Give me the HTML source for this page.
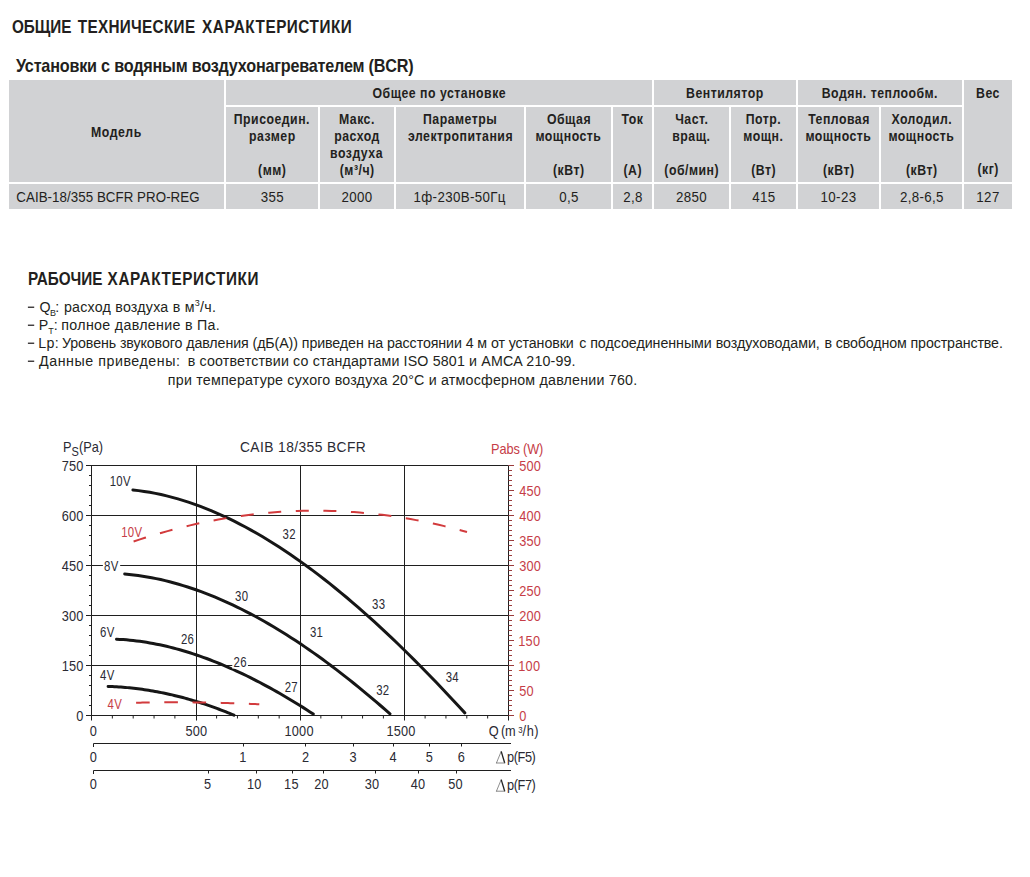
<!DOCTYPE html>
<html><head><meta charset="utf-8"><style>
html,body{margin:0;padding:0;background:#fff;width:1030px;height:877px;overflow:hidden}
svg{position:absolute;left:0;top:0}
text{font-family:"Liberation Sans",sans-serif;white-space:pre}
</style></head><body>
<svg width="1030" height="877" viewBox="0 0 1030 877">
<g id="table">
<rect x="9" y="80" width="215" height="102" fill="#d1d2d4"/>
<rect x="226" y="80" width="426" height="25" fill="#d1d2d4"/>
<rect x="654" y="80" width="142" height="25" fill="#d1d2d4"/>
<rect x="798" y="80" width="164" height="25" fill="#d1d2d4"/>
<rect x="964" y="80" width="48" height="102" fill="#d1d2d4"/>
<rect x="226" y="107" width="92" height="75" fill="#d1d2d4"/>
<rect x="320" y="107" width="74" height="75" fill="#d1d2d4"/>
<rect x="396" y="107" width="128" height="75" fill="#d1d2d4"/>
<rect x="526" y="107" width="85" height="75" fill="#d1d2d4"/>
<rect x="613" y="107" width="39" height="75" fill="#d1d2d4"/>
<rect x="654" y="107" width="75" height="75" fill="#d1d2d4"/>
<rect x="731" y="107" width="65" height="75" fill="#d1d2d4"/>
<rect x="798" y="107" width="81" height="75" fill="#d1d2d4"/>
<rect x="881" y="107" width="81" height="75" fill="#d1d2d4"/>
<rect x="9" y="184" width="215" height="25" fill="#d1d2d4"/>
<rect x="226" y="184" width="92" height="25" fill="#d1d2d4"/>
<rect x="320" y="184" width="74" height="25" fill="#d1d2d4"/>
<rect x="396" y="184" width="128" height="25" fill="#d1d2d4"/>
<rect x="526" y="184" width="85" height="25" fill="#d1d2d4"/>
<rect x="613" y="184" width="39" height="25" fill="#d1d2d4"/>
<rect x="654" y="184" width="75" height="25" fill="#d1d2d4"/>
<rect x="731" y="184" width="65" height="25" fill="#d1d2d4"/>
<rect x="798" y="184" width="81" height="25" fill="#d1d2d4"/>
<rect x="881" y="184" width="81" height="25" fill="#d1d2d4"/>
<rect x="964" y="184" width="48" height="25" fill="#d1d2d4"/>
</g>
<g id="chart">
<line x1="86" y1="465.5" x2="508.5" y2="465.5" stroke="#1f1f1f" stroke-width="1"/>
<line x1="86" y1="515.5" x2="508.5" y2="515.5" stroke="#1f1f1f" stroke-width="1"/>
<line x1="86" y1="565.5" x2="508.5" y2="565.5" stroke="#1f1f1f" stroke-width="1"/>
<line x1="86" y1="615.5" x2="508.5" y2="615.5" stroke="#1f1f1f" stroke-width="1"/>
<line x1="86" y1="665.5" x2="508.5" y2="665.5" stroke="#1f1f1f" stroke-width="1"/>
<line x1="86" y1="715.5" x2="508.5" y2="715.5" stroke="#1f1f1f" stroke-width="1"/>
<line x1="196.5" y1="465.5" x2="196.5" y2="720.5" stroke="#1f1f1f" stroke-width="1"/>
<line x1="300.5" y1="465.5" x2="300.5" y2="720.5" stroke="#1f1f1f" stroke-width="1"/>
<line x1="404.5" y1="465.5" x2="404.5" y2="720.5" stroke="#1f1f1f" stroke-width="1"/>
<line x1="91.5" y1="465.5" x2="91.5" y2="720.5" stroke="#1f1f1f" stroke-width="1"/>
<line x1="508.5" y1="465.5" x2="508.5" y2="720.5" stroke="#1f1f1f" stroke-width="1"/>
<line x1="89" y1="475.5" x2="91.5" y2="475.5" stroke="#1f1f1f" stroke-width="1"/>
<line x1="89" y1="485.5" x2="91.5" y2="485.5" stroke="#1f1f1f" stroke-width="1"/>
<line x1="89" y1="495.5" x2="91.5" y2="495.5" stroke="#1f1f1f" stroke-width="1"/>
<line x1="89" y1="505.5" x2="91.5" y2="505.5" stroke="#1f1f1f" stroke-width="1"/>
<line x1="89" y1="525.5" x2="91.5" y2="525.5" stroke="#1f1f1f" stroke-width="1"/>
<line x1="89" y1="535.5" x2="91.5" y2="535.5" stroke="#1f1f1f" stroke-width="1"/>
<line x1="89" y1="545.5" x2="91.5" y2="545.5" stroke="#1f1f1f" stroke-width="1"/>
<line x1="89" y1="555.5" x2="91.5" y2="555.5" stroke="#1f1f1f" stroke-width="1"/>
<line x1="89" y1="575.5" x2="91.5" y2="575.5" stroke="#1f1f1f" stroke-width="1"/>
<line x1="89" y1="585.5" x2="91.5" y2="585.5" stroke="#1f1f1f" stroke-width="1"/>
<line x1="89" y1="595.5" x2="91.5" y2="595.5" stroke="#1f1f1f" stroke-width="1"/>
<line x1="89" y1="605.5" x2="91.5" y2="605.5" stroke="#1f1f1f" stroke-width="1"/>
<line x1="89" y1="625.5" x2="91.5" y2="625.5" stroke="#1f1f1f" stroke-width="1"/>
<line x1="89" y1="635.5" x2="91.5" y2="635.5" stroke="#1f1f1f" stroke-width="1"/>
<line x1="89" y1="645.5" x2="91.5" y2="645.5" stroke="#1f1f1f" stroke-width="1"/>
<line x1="89" y1="655.5" x2="91.5" y2="655.5" stroke="#1f1f1f" stroke-width="1"/>
<line x1="89" y1="675.5" x2="91.5" y2="675.5" stroke="#1f1f1f" stroke-width="1"/>
<line x1="89" y1="685.5" x2="91.5" y2="685.5" stroke="#1f1f1f" stroke-width="1"/>
<line x1="89" y1="695.5" x2="91.5" y2="695.5" stroke="#1f1f1f" stroke-width="1"/>
<line x1="89" y1="705.5" x2="91.5" y2="705.5" stroke="#1f1f1f" stroke-width="1"/>
<line x1="508.5" y1="465.5" x2="514" y2="465.5" stroke="#9b3b3b" stroke-width="1"/>
<line x1="508.5" y1="470.5" x2="512" y2="470.5" stroke="#9b3b3b" stroke-width="1"/>
<line x1="508.5" y1="475.5" x2="512" y2="475.5" stroke="#9b3b3b" stroke-width="1"/>
<line x1="508.5" y1="480.5" x2="512" y2="480.5" stroke="#9b3b3b" stroke-width="1"/>
<line x1="508.5" y1="485.5" x2="512" y2="485.5" stroke="#9b3b3b" stroke-width="1"/>
<line x1="508.5" y1="490.5" x2="514" y2="490.5" stroke="#9b3b3b" stroke-width="1"/>
<line x1="508.5" y1="495.5" x2="512" y2="495.5" stroke="#9b3b3b" stroke-width="1"/>
<line x1="508.5" y1="500.5" x2="512" y2="500.5" stroke="#9b3b3b" stroke-width="1"/>
<line x1="508.5" y1="505.5" x2="512" y2="505.5" stroke="#9b3b3b" stroke-width="1"/>
<line x1="508.5" y1="510.5" x2="512" y2="510.5" stroke="#9b3b3b" stroke-width="1"/>
<line x1="508.5" y1="515.5" x2="514" y2="515.5" stroke="#9b3b3b" stroke-width="1"/>
<line x1="508.5" y1="520.5" x2="512" y2="520.5" stroke="#9b3b3b" stroke-width="1"/>
<line x1="508.5" y1="525.5" x2="512" y2="525.5" stroke="#9b3b3b" stroke-width="1"/>
<line x1="508.5" y1="530.5" x2="512" y2="530.5" stroke="#9b3b3b" stroke-width="1"/>
<line x1="508.5" y1="535.5" x2="512" y2="535.5" stroke="#9b3b3b" stroke-width="1"/>
<line x1="508.5" y1="540.5" x2="514" y2="540.5" stroke="#9b3b3b" stroke-width="1"/>
<line x1="508.5" y1="545.5" x2="512" y2="545.5" stroke="#9b3b3b" stroke-width="1"/>
<line x1="508.5" y1="550.5" x2="512" y2="550.5" stroke="#9b3b3b" stroke-width="1"/>
<line x1="508.5" y1="555.5" x2="512" y2="555.5" stroke="#9b3b3b" stroke-width="1"/>
<line x1="508.5" y1="560.5" x2="512" y2="560.5" stroke="#9b3b3b" stroke-width="1"/>
<line x1="508.5" y1="565.5" x2="514" y2="565.5" stroke="#9b3b3b" stroke-width="1"/>
<line x1="508.5" y1="570.5" x2="512" y2="570.5" stroke="#9b3b3b" stroke-width="1"/>
<line x1="508.5" y1="575.5" x2="512" y2="575.5" stroke="#9b3b3b" stroke-width="1"/>
<line x1="508.5" y1="580.5" x2="512" y2="580.5" stroke="#9b3b3b" stroke-width="1"/>
<line x1="508.5" y1="585.5" x2="512" y2="585.5" stroke="#9b3b3b" stroke-width="1"/>
<line x1="508.5" y1="590.5" x2="514" y2="590.5" stroke="#9b3b3b" stroke-width="1"/>
<line x1="508.5" y1="595.5" x2="512" y2="595.5" stroke="#9b3b3b" stroke-width="1"/>
<line x1="508.5" y1="600.5" x2="512" y2="600.5" stroke="#9b3b3b" stroke-width="1"/>
<line x1="508.5" y1="605.5" x2="512" y2="605.5" stroke="#9b3b3b" stroke-width="1"/>
<line x1="508.5" y1="610.5" x2="512" y2="610.5" stroke="#9b3b3b" stroke-width="1"/>
<line x1="508.5" y1="615.5" x2="514" y2="615.5" stroke="#9b3b3b" stroke-width="1"/>
<line x1="508.5" y1="620.5" x2="512" y2="620.5" stroke="#9b3b3b" stroke-width="1"/>
<line x1="508.5" y1="625.5" x2="512" y2="625.5" stroke="#9b3b3b" stroke-width="1"/>
<line x1="508.5" y1="630.5" x2="512" y2="630.5" stroke="#9b3b3b" stroke-width="1"/>
<line x1="508.5" y1="635.5" x2="512" y2="635.5" stroke="#9b3b3b" stroke-width="1"/>
<line x1="508.5" y1="640.5" x2="514" y2="640.5" stroke="#9b3b3b" stroke-width="1"/>
<line x1="508.5" y1="645.5" x2="512" y2="645.5" stroke="#9b3b3b" stroke-width="1"/>
<line x1="508.5" y1="650.5" x2="512" y2="650.5" stroke="#9b3b3b" stroke-width="1"/>
<line x1="508.5" y1="655.5" x2="512" y2="655.5" stroke="#9b3b3b" stroke-width="1"/>
<line x1="508.5" y1="660.5" x2="512" y2="660.5" stroke="#9b3b3b" stroke-width="1"/>
<line x1="508.5" y1="665.5" x2="514" y2="665.5" stroke="#9b3b3b" stroke-width="1"/>
<line x1="508.5" y1="670.5" x2="512" y2="670.5" stroke="#9b3b3b" stroke-width="1"/>
<line x1="508.5" y1="675.5" x2="512" y2="675.5" stroke="#9b3b3b" stroke-width="1"/>
<line x1="508.5" y1="680.5" x2="512" y2="680.5" stroke="#9b3b3b" stroke-width="1"/>
<line x1="508.5" y1="685.5" x2="512" y2="685.5" stroke="#9b3b3b" stroke-width="1"/>
<line x1="508.5" y1="690.5" x2="514" y2="690.5" stroke="#9b3b3b" stroke-width="1"/>
<line x1="508.5" y1="695.5" x2="512" y2="695.5" stroke="#9b3b3b" stroke-width="1"/>
<line x1="508.5" y1="700.5" x2="512" y2="700.5" stroke="#9b3b3b" stroke-width="1"/>
<line x1="508.5" y1="705.5" x2="512" y2="705.5" stroke="#9b3b3b" stroke-width="1"/>
<line x1="508.5" y1="710.5" x2="512" y2="710.5" stroke="#9b3b3b" stroke-width="1"/>
<line x1="508.5" y1="715.5" x2="514" y2="715.5" stroke="#9b3b3b" stroke-width="1"/>
<line x1="112.35" y1="715.5" x2="112.35" y2="718.5" stroke="#1f1f1f" stroke-width="1"/>
<line x1="133.2" y1="715.5" x2="133.2" y2="718.5" stroke="#1f1f1f" stroke-width="1"/>
<line x1="154.05" y1="715.5" x2="154.05" y2="718.5" stroke="#1f1f1f" stroke-width="1"/>
<line x1="174.9" y1="715.5" x2="174.9" y2="718.5" stroke="#1f1f1f" stroke-width="1"/>
<line x1="216.60000000000002" y1="715.5" x2="216.60000000000002" y2="718.5" stroke="#1f1f1f" stroke-width="1"/>
<line x1="237.45000000000002" y1="715.5" x2="237.45000000000002" y2="718.5" stroke="#1f1f1f" stroke-width="1"/>
<line x1="258.3" y1="715.5" x2="258.3" y2="718.5" stroke="#1f1f1f" stroke-width="1"/>
<line x1="279.15" y1="715.5" x2="279.15" y2="718.5" stroke="#1f1f1f" stroke-width="1"/>
<line x1="320.85" y1="715.5" x2="320.85" y2="718.5" stroke="#1f1f1f" stroke-width="1"/>
<line x1="341.70000000000005" y1="715.5" x2="341.70000000000005" y2="718.5" stroke="#1f1f1f" stroke-width="1"/>
<line x1="362.55" y1="715.5" x2="362.55" y2="718.5" stroke="#1f1f1f" stroke-width="1"/>
<line x1="383.40000000000003" y1="715.5" x2="383.40000000000003" y2="718.5" stroke="#1f1f1f" stroke-width="1"/>
<line x1="425.1" y1="715.5" x2="425.1" y2="718.5" stroke="#1f1f1f" stroke-width="1"/>
<line x1="445.95000000000005" y1="715.5" x2="445.95000000000005" y2="718.5" stroke="#1f1f1f" stroke-width="1"/>
<line x1="466.8" y1="715.5" x2="466.8" y2="718.5" stroke="#1f1f1f" stroke-width="1"/>
<line x1="487.65000000000003" y1="715.5" x2="487.65000000000003" y2="718.5" stroke="#1f1f1f" stroke-width="1"/>
<line x1="93.5" y1="743.5" x2="511" y2="743.5" stroke="#1f1f1f" stroke-width="1"/>
<line x1="93.5" y1="743.5" x2="93.5" y2="747" stroke="#1f1f1f" stroke-width="1"/>
<line x1="243.5" y1="743.5" x2="243.5" y2="746.5" stroke="#1f1f1f" stroke-width="1"/>
<line x1="305.5" y1="743.5" x2="305.5" y2="746.5" stroke="#1f1f1f" stroke-width="1"/>
<line x1="353.5" y1="743.5" x2="353.5" y2="746.5" stroke="#1f1f1f" stroke-width="1"/>
<line x1="393.5" y1="743.5" x2="393.5" y2="746.5" stroke="#1f1f1f" stroke-width="1"/>
<line x1="429.5" y1="743.5" x2="429.5" y2="746.5" stroke="#1f1f1f" stroke-width="1"/>
<line x1="461.5" y1="743.5" x2="461.5" y2="746.5" stroke="#1f1f1f" stroke-width="1"/>
<line x1="93.5" y1="770.5" x2="511" y2="770.5" stroke="#1f1f1f" stroke-width="1"/>
<line x1="93.5" y1="770.5" x2="93.5" y2="774" stroke="#1f1f1f" stroke-width="1"/>
<line x1="208.5" y1="770.5" x2="208.5" y2="773.5" stroke="#1f1f1f" stroke-width="1"/>
<line x1="256.5" y1="770.5" x2="256.5" y2="773.5" stroke="#1f1f1f" stroke-width="1"/>
<line x1="292.5" y1="770.5" x2="292.5" y2="773.5" stroke="#1f1f1f" stroke-width="1"/>
<line x1="323.5" y1="770.5" x2="323.5" y2="773.5" stroke="#1f1f1f" stroke-width="1"/>
<line x1="375.5" y1="770.5" x2="375.5" y2="773.5" stroke="#1f1f1f" stroke-width="1"/>
<line x1="418.5" y1="770.5" x2="418.5" y2="773.5" stroke="#1f1f1f" stroke-width="1"/>
<line x1="456.5" y1="770.5" x2="456.5" y2="773.5" stroke="#1f1f1f" stroke-width="1"/>
<path d="M132.90,489.97 L138.53,490.62 L144.15,491.41 L149.78,492.34 L155.40,493.39 L161.03,494.58 L166.65,495.89 L172.28,497.33 L177.90,498.90 L183.53,500.59 L189.15,502.41 L194.78,504.34 L200.41,506.40 L206.03,508.58 L211.66,510.87 L217.28,513.28 L222.91,515.80 L228.53,518.44 L234.16,521.19 L239.78,524.05 L245.41,527.02 L251.03,530.10 L256.66,533.28 L262.28,536.57 L267.91,539.96 L273.54,543.45 L279.16,547.05 L284.79,550.74 L290.41,554.53 L296.04,558.42 L301.66,562.40 L307.29,566.48 L312.91,570.64 L318.54,574.90 L324.16,579.25 L329.79,583.69 L335.42,588.21 L341.04,592.82 L346.67,597.51 L352.29,602.28 L357.92,607.14 L363.54,612.07 L369.17,617.08 L374.79,622.17 L380.42,627.33 L386.04,632.57 L391.67,637.88 L397.29,643.26 L402.92,648.71 L408.55,654.23 L414.17,659.82 L419.80,665.47 L425.42,671.18 L431.05,676.96 L436.67,682.80 L442.30,688.70 L447.92,694.66 L453.55,700.67 L459.17,706.74 L464.80,712.86" fill="none" stroke="#161616" stroke-width="3" stroke-linecap="round"/>
<path d="M124.70,573.96 L129.20,574.39 L133.69,574.90 L138.19,575.49 L142.69,576.16 L147.18,576.90 L151.68,577.72 L156.18,578.62 L160.67,579.59 L165.17,580.64 L169.67,581.76 L174.16,582.96 L178.66,584.23 L183.16,585.57 L187.65,586.98 L192.15,588.46 L196.65,590.01 L201.14,591.64 L205.64,593.33 L210.14,595.09 L214.63,596.91 L219.13,598.81 L223.63,600.77 L228.12,602.79 L232.62,604.89 L237.12,607.04 L241.61,609.26 L246.11,611.54 L250.61,613.89 L255.10,616.29 L259.60,618.76 L264.09,621.28 L268.59,623.87 L273.09,626.52 L277.58,629.22 L282.08,631.98 L286.58,634.80 L291.07,637.68 L295.57,640.61 L300.07,643.59 L304.56,646.63 L309.06,649.72 L313.56,652.87 L318.05,656.07 L322.55,659.32 L327.05,662.62 L331.54,665.98 L336.04,669.38 L340.54,672.83 L345.03,676.33 L349.53,679.87 L354.03,683.47 L358.52,687.11 L363.02,690.80 L367.52,694.53 L372.01,698.30 L376.51,702.12 L381.01,705.99 L385.50,709.89 L390.00,713.84" fill="none" stroke="#161616" stroke-width="3" stroke-linecap="round"/>
<path d="M116.50,639.22 L119.84,639.39 L123.17,639.60 L126.51,639.86 L129.84,640.17 L133.18,640.52 L136.51,640.91 L139.85,641.35 L143.18,641.82 L146.52,642.35 L149.86,642.91 L153.19,643.51 L156.53,644.16 L159.86,644.84 L163.20,645.57 L166.53,646.33 L169.87,647.14 L173.21,647.99 L176.54,648.87 L179.88,649.79 L183.21,650.75 L186.55,651.75 L189.88,652.79 L193.22,653.86 L196.55,654.97 L199.89,656.12 L203.23,657.30 L206.56,658.52 L209.90,659.77 L213.23,661.06 L216.57,662.38 L219.90,663.74 L223.24,665.13 L226.57,666.55 L229.91,668.01 L233.25,669.50 L236.58,671.02 L239.92,672.57 L243.25,674.16 L246.59,675.77 L249.92,677.42 L253.26,679.09 L256.59,680.80 L259.93,682.54 L263.27,684.30 L266.60,686.10 L269.94,687.92 L273.27,689.77 L276.61,691.65 L279.94,693.56 L283.28,695.49 L286.62,697.45 L289.95,699.44 L293.29,701.45 L296.62,703.49 L299.96,705.55 L303.29,707.64 L306.63,709.75 L309.96,711.89 L313.30,714.05" fill="none" stroke="#161616" stroke-width="3" stroke-linecap="round"/>
<path d="M108.10,686.40 L110.23,686.48 L112.37,686.57 L114.50,686.68 L116.64,686.80 L118.77,686.94 L120.90,687.09 L123.04,687.25 L125.17,687.43 L127.31,687.62 L129.44,687.83 L131.57,688.05 L133.71,688.28 L135.84,688.53 L137.97,688.79 L140.11,689.07 L142.24,689.36 L144.38,689.67 L146.51,689.98 L148.64,690.32 L150.78,690.67 L152.91,691.03 L155.05,691.40 L157.18,691.79 L159.31,692.20 L161.45,692.61 L163.58,693.05 L165.72,693.49 L167.85,693.95 L169.98,694.43 L172.12,694.91 L174.25,695.42 L176.38,695.93 L178.52,696.46 L180.65,697.01 L182.79,697.57 L184.92,698.14 L187.05,698.73 L189.19,699.33 L191.32,699.94 L193.46,700.57 L195.59,701.22 L197.72,701.87 L199.86,702.55 L201.99,703.23 L204.13,703.93 L206.26,704.65 L208.39,705.37 L210.53,706.12 L212.66,706.87 L214.79,707.64 L216.93,708.43 L219.06,709.23 L221.20,710.04 L223.33,710.87 L225.46,711.71 L227.60,712.56 L229.73,713.43 L231.87,714.31 L234.00,715.21" fill="none" stroke="#161616" stroke-width="3" stroke-linecap="round"/>
<path d="M133.60,541.52 L139.25,539.64 L144.90,537.81 L150.55,536.05 L156.20,534.34 L161.85,532.70 L167.51,531.11 L173.16,529.58 L178.81,528.12 L184.46,526.71 L190.11,525.36 L195.76,524.07 L201.41,522.84 L207.06,521.67 L212.71,520.56 L218.36,519.51 L224.01,518.51 L229.66,517.58 L235.32,516.71 L240.97,515.89 L246.62,515.14 L252.27,514.44 L257.92,513.81 L263.57,513.23 L269.22,512.71 L274.87,512.25 L280.52,511.86 L286.17,511.52 L291.82,511.24 L297.47,511.02 L303.13,510.86 L308.78,510.75 L314.43,510.71 L320.08,510.73 L325.73,510.81 L331.38,510.94 L337.03,511.14 L342.68,511.39 L348.33,511.71 L353.98,512.08 L359.63,512.51 L365.28,513.01 L370.94,513.56 L376.59,514.17 L382.24,514.84 L387.89,515.57 L393.54,516.36 L399.19,517.21 L404.84,518.12 L410.49,519.08 L416.14,520.11 L421.79,521.20 L427.44,522.34 L433.09,523.55 L438.75,524.81 L444.40,526.14 L450.05,527.52 L455.70,528.96 L461.35,530.46 L467.00,532.03" fill="none" stroke="#d23b3d" stroke-width="2" stroke-dasharray="13 14.6"/>
<path d="M136.10,702.75 L138.19,702.71 L140.28,702.66 L142.36,702.62 L144.45,702.58 L146.54,702.54 L148.63,702.51 L150.72,702.47 L152.81,702.44 L154.89,702.42 L156.98,702.39 L159.07,702.37 L161.16,702.35 L163.25,702.33 L165.33,702.32 L167.42,702.31 L169.51,702.30 L171.60,702.29 L173.69,702.29 L175.77,702.28 L177.86,702.29 L179.95,702.29 L182.04,702.29 L184.13,702.30 L186.22,702.31 L188.30,702.33 L190.39,702.34 L192.48,702.36 L194.57,702.38 L196.66,702.41 L198.74,702.43 L200.83,702.46 L202.92,702.49 L205.01,702.53 L207.10,702.56 L209.18,702.60 L211.27,702.64 L213.36,702.69 L215.45,702.73 L217.54,702.78 L219.63,702.83 L221.71,702.89 L223.80,702.94 L225.89,703.00 L227.98,703.06 L230.07,703.13 L232.15,703.19 L234.24,703.26 L236.33,703.34 L238.42,703.41 L240.51,703.49 L242.59,703.57 L244.68,703.65 L246.77,703.73 L248.86,703.82 L250.95,703.91 L253.04,704.00 L255.12,704.10 L257.21,704.19 L259.30,704.29" fill="none" stroke="#d23b3d" stroke-width="2" stroke-dasharray="13.6 14.6"/>
</g>
<g id="texts">
<rect x="27.9" y="306.60" width="6.3" height="1.25" fill="#231f20"/><rect x="27.9" y="324.60" width="6.3" height="1.25" fill="#231f20"/><rect x="27.9" y="342.60" width="6.3" height="1.25" fill="#231f20"/><rect x="27.9" y="360.60" width="6.3" height="1.25" fill="#231f20"/><line x1="496.4" y1="763.10" x2="501.2" y2="751.40" stroke="#6a6a6a" stroke-width="0.75"/><line x1="501.2" y1="751.40" x2="504.7" y2="763.00" stroke="#222" stroke-width="1.3"/><line x1="496.0" y1="763.00" x2="505.2" y2="763.00" stroke="#6a6a6a" stroke-width="0.8"/><line x1="496.4" y1="791.30" x2="501.2" y2="779.60" stroke="#6a6a6a" stroke-width="0.75"/><line x1="501.2" y1="779.60" x2="504.7" y2="791.20" stroke="#222" stroke-width="1.3"/><line x1="496.0" y1="791.20" x2="505.2" y2="791.20" stroke="#6a6a6a" stroke-width="0.8"/>
<g transform="translate(12.00,32.60) scale(0.8500,1)" fill="#231f20"><text x="0.00" y="0" font-size="18" font-weight="700" letter-spacing="-0.084">ОБЩИЕ</text></g>
<g transform="translate(77.80,32.60) scale(0.8500,1)" fill="#231f20"><text x="0.00" y="0" font-size="18" font-weight="700" letter-spacing="0.360">ТЕХНИЧЕСКИЕ</text></g>
<g transform="translate(202.10,32.60) scale(0.8500,1)" fill="#231f20"><text x="0.00" y="0" font-size="18" font-weight="700" letter-spacing="0.617">ХАРАКТЕРИСТИКИ</text></g>
<g transform="translate(16.00,71.60) scale(0.9000,1)" fill="#231f20"><text x="0.00" y="0" font-size="18" font-weight="700" letter-spacing="-0.229">Установки с водяным воздухонагревателем (BCR)</text></g>
<g transform="translate(28.05,284.60) scale(0.8500,1)" fill="#231f20"><text x="0.00" y="0" font-size="18" font-weight="700" letter-spacing="-0.060">РАБОЧИЕ</text></g>
<g transform="translate(107.60,284.60) scale(0.8500,1)" fill="#231f20"><text x="0.00" y="0" font-size="18" font-weight="700" letter-spacing="0.725">ХАРАКТЕРИСТИКИ</text></g>
<g transform="translate(91.12,136.60) scale(0.8200,1)" fill="#231f20"><text x="0.00" y="0" font-size="15.0" font-weight="700" letter-spacing="0.610">Модель</text></g>
<g transform="translate(372.52,97.80) scale(0.8200,1)" fill="#231f20"><text x="0.00" y="0" font-size="15.0" font-weight="700" letter-spacing="0.610">Общее по установке</text></g>
<g transform="translate(686.10,97.80) scale(0.8200,1)" fill="#231f20"><text x="0.00" y="0" font-size="15.0" font-weight="700" letter-spacing="0.610">Вентилятор</text></g>
<g transform="translate(821.71,97.80) scale(0.8200,1)" fill="#231f20"><text x="0.00" y="0" font-size="15.0" font-weight="700" letter-spacing="0.610">Водян. теплообм.</text></g>
<g transform="translate(976.03,97.80) scale(0.8200,1)" fill="#231f20"><text x="0.00" y="0" font-size="15.0" font-weight="700" letter-spacing="0.610">Вес</text></g>
<g transform="translate(977.51,173.50) scale(0.8200,1)" fill="#231f20"><text x="0.00" y="0" font-size="15.0" font-weight="700" letter-spacing="0.610">(кг)</text></g>
<g transform="translate(233.75,123.60) scale(0.8200,1)" fill="#231f20"><text x="0.00" y="0" font-size="15.0" font-weight="700" letter-spacing="0.610">Присоедин.</text></g>
<g transform="translate(248.93,140.60) scale(0.8200,1)" fill="#231f20"><text x="0.00" y="0" font-size="15.0" font-weight="700" letter-spacing="0.610">размер</text></g>
<g transform="translate(258.05,175.00) scale(0.8200,1)" fill="#231f20"><text x="0.00" y="0" font-size="15.0" font-weight="700" letter-spacing="0.610">(мм)</text></g>
<g transform="translate(338.91,123.60) scale(0.8200,1)" fill="#231f20"><text x="0.00" y="0" font-size="15.0" font-weight="700" letter-spacing="0.610">Макс.</text></g>
<g transform="translate(334.19,140.60) scale(0.8200,1)" fill="#231f20"><text x="0.00" y="0" font-size="15.0" font-weight="700" letter-spacing="0.610">расход</text></g>
<g transform="translate(330.07,157.60) scale(0.8200,1)" fill="#231f20"><text x="0.00" y="0" font-size="15.0" font-weight="700" letter-spacing="0.610">воздуха</text></g>
<g transform="translate(339.78,175.00) scale(0.8200,1)" fill="#231f20"><text x="0.00" y="0" font-size="15.0" font-weight="700" letter-spacing="0.610">(м³/ч)</text></g>
<g transform="translate(423.00,123.60) scale(0.8200,1)" fill="#231f20"><text x="0.00" y="0" font-size="15.0" font-weight="700" letter-spacing="0.610">Параметры</text></g>
<g transform="translate(407.95,140.60) scale(0.8200,1)" fill="#231f20"><text x="0.00" y="0" font-size="15.0" font-weight="700" letter-spacing="0.610">электропитания</text></g>
<g transform="translate(546.95,123.60) scale(0.8200,1)" fill="#231f20"><text x="0.00" y="0" font-size="15.0" font-weight="700" letter-spacing="0.610">Общая</text></g>
<g transform="translate(535.41,140.60) scale(0.8200,1)" fill="#231f20"><text x="0.00" y="0" font-size="15.0" font-weight="700" letter-spacing="0.610">мощность</text></g>
<g transform="translate(552.95,175.00) scale(0.8200,1)" fill="#231f20"><text x="0.00" y="0" font-size="15.0" font-weight="700" letter-spacing="0.610">(кВт)</text></g>
<g transform="translate(621.59,123.60) scale(0.8200,1)" fill="#231f20"><text x="0.00" y="0" font-size="15.0" font-weight="700" letter-spacing="0.610">Ток</text></g>
<g transform="translate(623.46,175.00) scale(0.8200,1)" fill="#231f20"><text x="0.00" y="0" font-size="15.0" font-weight="700" letter-spacing="0.610">(А)</text></g>
<g transform="translate(675.23,123.60) scale(0.8200,1)" fill="#231f20"><text x="0.00" y="0" font-size="15.0" font-weight="700" letter-spacing="0.610">Част.</text></g>
<g transform="translate(672.30,140.60) scale(0.8200,1)" fill="#231f20"><text x="0.00" y="0" font-size="15.0" font-weight="700" letter-spacing="0.610">вращ.</text></g>
<g transform="translate(664.34,175.00) scale(0.8200,1)" fill="#231f20"><text x="0.00" y="0" font-size="15.0" font-weight="700" letter-spacing="0.610">(об/мин)</text></g>
<g transform="translate(745.66,123.60) scale(0.8200,1)" fill="#231f20"><text x="0.00" y="0" font-size="15.0" font-weight="700" letter-spacing="0.610">Потр.</text></g>
<g transform="translate(743.32,140.60) scale(0.8200,1)" fill="#231f20"><text x="0.00" y="0" font-size="15.0" font-weight="700" letter-spacing="0.610">мощн.</text></g>
<g transform="translate(751.28,175.00) scale(0.8200,1)" fill="#231f20"><text x="0.00" y="0" font-size="15.0" font-weight="700" letter-spacing="0.610">(Вт)</text></g>
<g transform="translate(808.18,123.60) scale(0.8200,1)" fill="#231f20"><text x="0.00" y="0" font-size="15.0" font-weight="700" letter-spacing="0.610">Тепловая</text></g>
<g transform="translate(805.41,140.60) scale(0.8200,1)" fill="#231f20"><text x="0.00" y="0" font-size="15.0" font-weight="700" letter-spacing="0.610">мощность</text></g>
<g transform="translate(822.95,175.00) scale(0.8200,1)" fill="#231f20"><text x="0.00" y="0" font-size="15.0" font-weight="700" letter-spacing="0.610">(кВт)</text></g>
<g transform="translate(891.39,123.60) scale(0.8200,1)" fill="#231f20"><text x="0.00" y="0" font-size="15.0" font-weight="700" letter-spacing="0.610">Холодил.</text></g>
<g transform="translate(888.41,140.60) scale(0.8200,1)" fill="#231f20"><text x="0.00" y="0" font-size="15.0" font-weight="700" letter-spacing="0.610">мощность</text></g>
<g transform="translate(905.95,175.00) scale(0.8200,1)" fill="#231f20"><text x="0.00" y="0" font-size="15.0" font-weight="700" letter-spacing="0.610">(кВт)</text></g>
<g transform="translate(16.30,202.00) scale(0.8600,1)" fill="#231f20"><text x="0.00" y="0" font-size="15.5" font-weight="400" letter-spacing="0.065">CAIB-18/355 BCFR PRO-REG</text></g>
<g transform="translate(260.80,202.00) scale(0.8600,1)" fill="#231f20"><text x="0.00" y="0" font-size="15.5" font-weight="400" letter-spacing="0.407">355</text></g>
<g transform="translate(341.48,202.00) scale(0.8600,1)" fill="#231f20"><text x="0.00" y="0" font-size="15.5" font-weight="400" letter-spacing="0.407">2000</text></g>
<g transform="translate(413.56,202.00) scale(0.8600,1)" fill="#231f20"><text x="0.00" y="0" font-size="15.5" font-weight="400" letter-spacing="0.407">1ф-230В-50Гц</text></g>
<g transform="translate(559.15,202.00) scale(0.8600,1)" fill="#231f20"><text x="0.00" y="0" font-size="15.5" font-weight="400" letter-spacing="0.407">0,5</text></g>
<g transform="translate(623.15,202.00) scale(0.8600,1)" fill="#231f20"><text x="0.00" y="0" font-size="15.5" font-weight="400" letter-spacing="0.407">2,8</text></g>
<g transform="translate(675.98,202.00) scale(0.8600,1)" fill="#231f20"><text x="0.00" y="0" font-size="15.5" font-weight="400" letter-spacing="0.407">2850</text></g>
<g transform="translate(752.30,202.00) scale(0.8600,1)" fill="#231f20"><text x="0.00" y="0" font-size="15.5" font-weight="400" letter-spacing="0.407">415</text></g>
<g transform="translate(820.59,202.00) scale(0.8600,1)" fill="#231f20"><text x="0.00" y="0" font-size="15.5" font-weight="400" letter-spacing="0.407">10-23</text></g>
<g transform="translate(899.97,202.00) scale(0.8600,1)" fill="#231f20"><text x="0.00" y="0" font-size="15.5" font-weight="400" letter-spacing="0.407">2,8-6,5</text></g>
<g transform="translate(976.37,202.00) scale(0.8600,1)" fill="#231f20"><text x="0.00" y="0" font-size="15.5" font-weight="400" letter-spacing="0.407">127</text></g>
<g transform="translate(39.60,311.80) scale(0.9500,1)" fill="#231f20"><text x="0.00" y="0" font-size="15.0" font-weight="400" letter-spacing="-0.818">Q</text><text x="10.85" y="4.6" font-size="9.5" font-weight="400" letter-spacing="-0.818">В</text><text x="16.37" y="0" font-size="15.0" font-weight="400" letter-spacing="-0.818">:</text></g>
<g transform="translate(63.90,311.80) scale(0.9500,1)" fill="#231f20"><text x="0.00" y="0" font-size="15.0" font-weight="400" letter-spacing="0.241">расход воздуха в м</text><text x="137.85" y="-5.6" font-size="9.5" font-weight="400" letter-spacing="0.241">3</text><text x="143.38" y="0" font-size="15.0" font-weight="400" letter-spacing="0.241">/ч.</text></g>
<g transform="translate(38.85,329.80) scale(0.9500,1)" fill="#231f20"><text x="0.00" y="0" font-size="15.0" font-weight="400" letter-spacing="-0.062">P</text><text x="9.94" y="4.6" font-size="9.5" font-weight="400" letter-spacing="-0.062">Т</text><text x="15.68" y="0" font-size="15.0" font-weight="400" letter-spacing="-0.062">:</text></g>
<g transform="translate(61.35,329.80) scale(0.9500,1)" fill="#231f20"><text x="0.00" y="0" font-size="15.0" font-weight="400" letter-spacing="0.329">полное давление в Па.</text></g>
<g transform="translate(38.35,347.80) scale(0.9500,1)" fill="#231f20"><text x="0.00" y="0" font-size="15.0" font-weight="400" letter-spacing="0.237">Lp:</text></g>
<g transform="translate(61.90,347.80) scale(0.9500,1)" fill="#231f20"><text x="0.00" y="0" font-size="15.0" font-weight="400" letter-spacing="-0.100">Уровень звукового давления (дБ(А)) приведен на расстоянии 4 м от установки</text></g>
<g transform="translate(579.20,347.80) scale(0.9500,1)" fill="#231f20"><text x="0.00" y="0" font-size="15.0" font-weight="400" letter-spacing="-0.038">с подсоединенными воздуховодами,</text></g>
<g transform="translate(824.45,347.80) scale(0.9500,1)" fill="#231f20"><text x="0.00" y="0" font-size="15.0" font-weight="400" letter-spacing="-0.125">в свободном пространстве.</text></g>
<g transform="translate(39.00,365.80) scale(0.9500,1)" fill="#231f20"><text x="0.00" y="0" font-size="15.0" font-weight="400" letter-spacing="0.575">Данные приведены:</text></g>
<g transform="translate(187.75,365.80) scale(0.9500,1)" fill="#231f20"><text x="0.00" y="0" font-size="15.0" font-weight="400" letter-spacing="0.162">в соответствии со стандартами ISO 5801 и AMCA 210-99.</text></g>
<g transform="translate(167.85,384.80) scale(0.9500,1)" fill="#231f20"><text x="0.00" y="0" font-size="15.0" font-weight="400" letter-spacing="0.220">при температуре сухого воздуха 20°C и атмосферном давлении 760.</text></g>
<g transform="translate(63.08,451.80) scale(0.9200,1)" fill="#2a2a33"><text x="0.00" y="0" font-size="13.9" font-weight="400" letter-spacing="-0.007">P</text><text x="9.26" y="3.8" font-size="12" font-weight="400" letter-spacing="-0.007">S</text><text x="17.25" y="0" font-size="13.9" font-weight="400" letter-spacing="-0.007">(Pa)</text></g>
<g transform="translate(240.00,452.30) scale(0.9200,1)" fill="#2a2a33"><text x="0.00" y="0" font-size="15" font-weight="400" letter-spacing="0.449">CAIB 18/355 BCFR</text></g>
<g transform="translate(491.08,454.00) scale(0.9200,1)" fill="#c63d47"><text x="0.00" y="0" font-size="13.9" font-weight="400" letter-spacing="-0.148">Pabs (W)</text></g>
<g transform="translate(61.63,471.20) scale(0.9200,1)" fill="#2a2a33"><text x="0.00" y="0" font-size="13.9" font-weight="400" letter-spacing="0.217">750</text></g>
<g transform="translate(61.63,521.20) scale(0.9200,1)" fill="#2a2a33"><text x="0.00" y="0" font-size="13.9" font-weight="400" letter-spacing="0.217">600</text></g>
<g transform="translate(61.63,571.20) scale(0.9200,1)" fill="#2a2a33"><text x="0.00" y="0" font-size="13.9" font-weight="400" letter-spacing="0.217">450</text></g>
<g transform="translate(61.63,621.20) scale(0.9200,1)" fill="#2a2a33"><text x="0.00" y="0" font-size="13.9" font-weight="400" letter-spacing="0.217">300</text></g>
<g transform="translate(61.63,671.20) scale(0.9200,1)" fill="#2a2a33"><text x="0.00" y="0" font-size="13.9" font-weight="400" letter-spacing="0.217">150</text></g>
<g transform="translate(76.24,721.20) scale(0.9200,1)" fill="#2a2a33"><text x="0.00" y="0" font-size="13.9" font-weight="400" letter-spacing="0.217">0</text></g>
<g transform="translate(519.20,471.10) scale(0.9200,1)" fill="#c63d47"><text x="0.00" y="0" font-size="13.9" font-weight="400" letter-spacing="0.217">500</text></g>
<g transform="translate(519.20,496.10) scale(0.9200,1)" fill="#c63d47"><text x="0.00" y="0" font-size="13.9" font-weight="400" letter-spacing="0.217">450</text></g>
<g transform="translate(519.20,521.10) scale(0.9200,1)" fill="#c63d47"><text x="0.00" y="0" font-size="13.9" font-weight="400" letter-spacing="0.217">400</text></g>
<g transform="translate(519.20,546.10) scale(0.9200,1)" fill="#c63d47"><text x="0.00" y="0" font-size="13.9" font-weight="400" letter-spacing="0.217">350</text></g>
<g transform="translate(519.20,571.10) scale(0.9200,1)" fill="#c63d47"><text x="0.00" y="0" font-size="13.9" font-weight="400" letter-spacing="0.217">300</text></g>
<g transform="translate(519.20,596.10) scale(0.9200,1)" fill="#c63d47"><text x="0.00" y="0" font-size="13.9" font-weight="400" letter-spacing="0.217">250</text></g>
<g transform="translate(519.20,621.10) scale(0.9200,1)" fill="#c63d47"><text x="0.00" y="0" font-size="13.9" font-weight="400" letter-spacing="0.217">200</text></g>
<g transform="translate(518.28,646.10) scale(0.9200,1)" fill="#c63d47"><text x="0.00" y="0" font-size="13.9" font-weight="400" letter-spacing="0.217">150</text></g>
<g transform="translate(518.28,671.10) scale(0.9200,1)" fill="#c63d47"><text x="0.00" y="0" font-size="13.9" font-weight="400" letter-spacing="0.217">100</text></g>
<g transform="translate(519.20,696.10) scale(0.9200,1)" fill="#c63d47"><text x="0.00" y="0" font-size="13.9" font-weight="400" letter-spacing="0.217">50</text></g>
<g transform="translate(519.20,721.10) scale(0.9200,1)" fill="#c63d47"><text x="0.00" y="0" font-size="13.9" font-weight="400" letter-spacing="0.217">0</text></g>
<g transform="translate(89.82,736.00) scale(0.9200,1)" fill="#2a2a33"><text x="0.00" y="0" font-size="13.9" font-weight="400" letter-spacing="0.217">0</text></g>
<g transform="translate(185.51,736.00) scale(0.9200,1)" fill="#2a2a33"><text x="0.00" y="0" font-size="13.9" font-weight="400" letter-spacing="0.217">500</text></g>
<g transform="translate(284.50,736.00) scale(0.9200,1)" fill="#2a2a33"><text x="0.00" y="0" font-size="13.9" font-weight="400" letter-spacing="0.217">1000</text></g>
<g transform="translate(386.40,736.00) scale(0.9200,1)" fill="#2a2a33"><text x="0.00" y="0" font-size="13.9" font-weight="400" letter-spacing="0.217">1500</text></g>
<g transform="translate(488.80,736.20) scale(0.9200,1)" fill="#2a2a33"><text x="0.00" y="0" font-size="13.9" font-weight="400" letter-spacing="-3.174">Q</text></g>
<g transform="translate(501.00,736.20) scale(0.9200,1)" fill="#2a2a33"><text x="0.00" y="0" font-size="13.9" font-weight="400" letter-spacing="-0.408">(m</text></g>
<g transform="translate(518.20,732.90) scale(0.8500,1)" fill="#2a2a33"><text x="0.00" y="0" font-size="9.2" font-weight="400">3</text></g>
<g transform="translate(522.60,736.20) scale(0.9200,1)" fill="#2a2a33"><text x="0.00" y="0" font-size="13.9" font-weight="400" letter-spacing="0.577">/h)</text></g>
<g transform="translate(89.82,762.30) scale(0.9200,1)" fill="#2a2a33"><text x="0.00" y="0" font-size="13.9" font-weight="400" letter-spacing="0.217">0</text></g>
<g transform="translate(239.36,762.30) scale(0.9200,1)" fill="#2a2a33"><text x="0.00" y="0" font-size="13.9" font-weight="400" letter-spacing="0.217">1</text></g>
<g transform="translate(302.12,762.30) scale(0.9200,1)" fill="#2a2a33"><text x="0.00" y="0" font-size="13.9" font-weight="400" letter-spacing="0.217">2</text></g>
<g transform="translate(349.62,762.30) scale(0.9200,1)" fill="#2a2a33"><text x="0.00" y="0" font-size="13.9" font-weight="400" letter-spacing="0.217">3</text></g>
<g transform="translate(389.62,762.30) scale(0.9200,1)" fill="#2a2a33"><text x="0.00" y="0" font-size="13.9" font-weight="400" letter-spacing="0.217">4</text></g>
<g transform="translate(425.82,762.30) scale(0.9200,1)" fill="#2a2a33"><text x="0.00" y="0" font-size="13.9" font-weight="400" letter-spacing="0.217">5</text></g>
<g transform="translate(457.82,762.30) scale(0.9200,1)" fill="#2a2a33"><text x="0.00" y="0" font-size="13.9" font-weight="400" letter-spacing="0.217">6</text></g>
<g transform="translate(89.82,789.00) scale(0.9200,1)" fill="#2a2a33"><text x="0.00" y="0" font-size="13.9" font-weight="400" letter-spacing="0.217">0</text></g>
<g transform="translate(203.92,789.00) scale(0.9200,1)" fill="#2a2a33"><text x="0.00" y="0" font-size="13.9" font-weight="400" letter-spacing="0.217">5</text></g>
<g transform="translate(247.01,789.00) scale(0.9200,1)" fill="#2a2a33"><text x="0.00" y="0" font-size="13.9" font-weight="400" letter-spacing="0.217">10</text></g>
<g transform="translate(284.11,789.00) scale(0.9200,1)" fill="#2a2a33"><text x="0.00" y="0" font-size="13.9" font-weight="400" letter-spacing="0.217">15</text></g>
<g transform="translate(314.17,789.00) scale(0.9200,1)" fill="#2a2a33"><text x="0.00" y="0" font-size="13.9" font-weight="400" letter-spacing="0.217">20</text></g>
<g transform="translate(364.67,789.00) scale(0.9200,1)" fill="#2a2a33"><text x="0.00" y="0" font-size="13.9" font-weight="400" letter-spacing="0.217">30</text></g>
<g transform="translate(410.67,789.00) scale(0.9200,1)" fill="#2a2a33"><text x="0.00" y="0" font-size="13.9" font-weight="400" letter-spacing="0.217">40</text></g>
<g transform="translate(448.17,789.00) scale(0.9200,1)" fill="#2a2a33"><text x="0.00" y="0" font-size="13.9" font-weight="400" letter-spacing="0.217">50</text></g>
<g transform="translate(507.00,762.40) scale(0.9200,1)" fill="#2a2a33"><text x="0.00" y="0" font-size="13.9" font-weight="400" letter-spacing="-0.450">p(F5)</text></g>
<g transform="translate(507.00,790.10) scale(0.9200,1)" fill="#2a2a33"><text x="0.00" y="0" font-size="13.9" font-weight="400" letter-spacing="-0.450">p(F7)</text></g>
<g transform="translate(109.68,486.00) scale(0.8200,1)" fill="#2a2a33"><text x="0.00" y="0" font-size="13.9" font-weight="400" letter-spacing="0.366">10V</text></g>
<g transform="translate(104.10,570.80) scale(0.8200,1)" fill="#2a2a33"><rect x="-1.50" y="-11" width="21.09" height="13" fill="#fff"/><text x="0.00" y="0" font-size="13.9" font-weight="400" letter-spacing="0.366">8V</text></g>
<g transform="translate(100.00,637.00) scale(0.8200,1)" fill="#2a2a33"><text x="0.00" y="0" font-size="13.9" font-weight="400" letter-spacing="0.366">6V</text></g>
<g transform="translate(100.00,679.60) scale(0.8200,1)" fill="#2a2a33"><text x="0.00" y="0" font-size="13.9" font-weight="400" letter-spacing="0.366">4V</text></g>
<g transform="translate(107.50,708.80) scale(0.8200,1)" fill="#c63d47"><text x="0.00" y="0" font-size="13.9" font-weight="400" letter-spacing="0.366">4V</text></g>
<g transform="translate(121.18,536.50) scale(0.8200,1)" fill="#c63d47"><text x="0.00" y="0" font-size="13.9" font-weight="400" letter-spacing="0.366">10V</text></g>
<g transform="translate(282.60,539.10) scale(0.8200,1)" fill="#2a2a33"><text x="0.00" y="0" font-size="13.9" font-weight="400" letter-spacing="0.366">32</text></g>
<g transform="translate(372.10,609.40) scale(0.8200,1)" fill="#2a2a33"><text x="0.00" y="0" font-size="13.9" font-weight="400" letter-spacing="0.366">33</text></g>
<g transform="translate(445.70,681.80) scale(0.8200,1)" fill="#2a2a33"><text x="0.00" y="0" font-size="13.9" font-weight="400" letter-spacing="0.366">34</text></g>
<g transform="translate(235.00,600.70) scale(0.8200,1)" fill="#2a2a33"><rect x="-1.50" y="-11" width="19.09" height="13" fill="#fff"/><text x="0.00" y="0" font-size="13.9" font-weight="400" letter-spacing="0.366">30</text></g>
<g transform="translate(309.90,637.40) scale(0.8200,1)" fill="#2a2a33"><text x="0.00" y="0" font-size="13.9" font-weight="400" letter-spacing="0.366">31</text></g>
<g transform="translate(376.20,694.70) scale(0.8200,1)" fill="#2a2a33"><text x="0.00" y="0" font-size="13.9" font-weight="400" letter-spacing="0.366">32</text></g>
<g transform="translate(180.90,643.80) scale(0.8200,1)" fill="#2a2a33"><text x="0.00" y="0" font-size="13.9" font-weight="400" letter-spacing="0.366">26</text></g>
<g transform="translate(233.50,666.60) scale(0.8200,1)" fill="#2a2a33"><rect x="-1.50" y="-11" width="19.09" height="13" fill="#fff"/><text x="0.00" y="0" font-size="13.9" font-weight="400" letter-spacing="0.366">26</text></g>
<g transform="translate(284.70,691.50) scale(0.8200,1)" fill="#2a2a33"><text x="0.00" y="0" font-size="13.9" font-weight="400" letter-spacing="0.366">27</text></g>
</g>
</svg>
</body></html>
